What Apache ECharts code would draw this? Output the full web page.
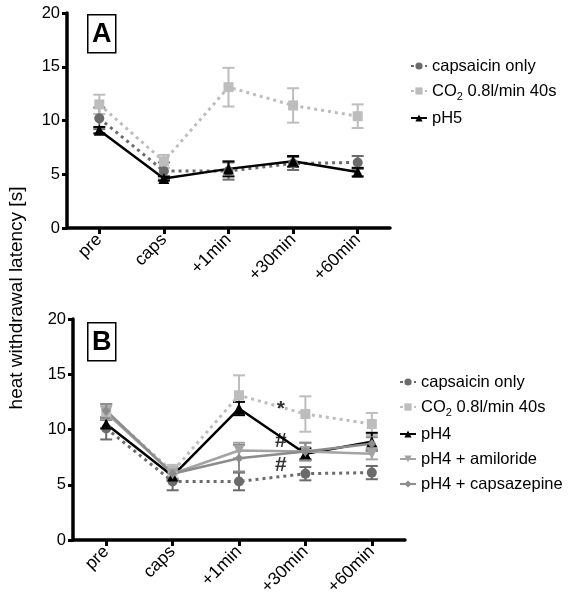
<!DOCTYPE html>
<html>
<head>
<meta charset="utf-8">
<script src="https://cdn.jsdelivr.net/npm/echarts@6/dist/echarts.min.js"></script>
<style>html,body{margin:0;padding:0;background:#fff}#c{width:570px;height:601px}</style>
</head>
<body>
<div id="c"></div>
<script>
// ---- data ----
const categories = ['pre', 'caps', '+1min', '+30min', '+60min'];
const yTicks = [0, 5, 10, 15, 20];

// Panel A
const aCapsMean = [10.2, 5.3, 5.3, 6.0, 6.1];
const aCapsErr  = [1.0, 0.8, 0.8, 0.6, 0.6];
const aCO2Mean  = [11.5, 6.2, 13.1, 11.4, 10.4];
const aCO2Err   = [0.9, 0.6, 1.8, 1.6, 1.1];
const aPH5Mean  = [9.1, 4.6, 5.5, 6.2, 5.2];
const aPH5Err   = [0.3, 0.2, 0.7, 0.5, 0.4];

// Panel B
const bCapsMean = [10.1, 5.3, 5.3, 6.0, 6.1];
const bCapsErr  = [1.0, 0.8, 0.8, 0.6, 0.6];
const bCO2Mean  = [11.6, 6.2, 13.1, 11.4, 10.5];
const bCO2Err   = [0.7, 0.6, 1.8, 1.6, 1.0];
const bPH4Mean  = [10.5, 5.8, 11.9, 7.8, 8.9];
const bPH4Err   = [0.4, 0.4, 0.6, 0.5, 0.8];
const bAmiMean  = [11.5, 6.0, 8.1, 8.0, 7.8];
const bAmiErr   = [0.6, 0.6, 0.7, 0.8, 0.5];
const bCpzMean  = [11.7, 6.0, 7.4, 8.0, 8.7];
const bCpzErr   = [0.6, 0.5, 1.2, 0.8, 0.6];

// significance marks in panel B: [x position (category units), y value, text]
const bMarks = [[2.63, 11.8, '*'], [2.63, 8.9, '#'], [2.63, 6.8, '#']];

const legendA = ['capsaicin only', 'CO2 0.8l/min 40s', 'pH5'];
const legendB = ['capsaicin only', 'CO2 0.8l/min 40s', 'pH4', 'pH4 + amiloride', 'pH4 + capsazepine'];

// ---- styles ----
const FONT = 'Liberation Sans, Arial, Helvetica, sans-serif';
const C_CAPS = '#6b6b6b', C_CO2 = '#bdbdbd', C_PH = '#000000', C_AMI = '#a3a3a3', C_CPZ = '#8c8c8c';
const DOT = [3, 4];

function errData(mean, err) {
  return mean.map((m, i) => [i, m - err[i], m + err[i]]);
}
function errRender(params, api) {
  const x = api.value(0);
  const lo = api.coord([x, api.value(1)]);
  const hi = api.coord([x, api.value(2)]);
  const w = 6;
  const style = { stroke: api.visual('color'), lineWidth: 2 };
  return {
    type: 'group',
    children: [
      { type: 'line', shape: { x1: lo[0], y1: lo[1], x2: hi[0], y2: hi[1] }, style },
      { type: 'line', shape: { x1: lo[0] - w, y1: lo[1], x2: lo[0] + w, y2: lo[1] }, style },
      { type: 'line', shape: { x1: hi[0] - w, y1: hi[1], x2: hi[0] + w, y2: hi[1] }, style }
    ]
  };
}
function errSeries(idx, mean, err, color) {
  return {
    type: 'custom', name: 'err' + idx + color + mean[0],
    xAxisIndex: idx, yAxisIndex: idx,
    renderItem: errRender, itemStyle: { color },
    data: errData(mean, err), encode: { x: 0, y: [1, 2] }, z: 2, silent: true
  };
}
function lineSeries(idx, name, mean, color, symbol, dotted, size, rot) {
  return {
    type: 'line', name, xAxisIndex: idx, yAxisIndex: idx, data: mean,
    symbol, symbolSize: size, symbolRotate: rot || 0,
    itemStyle: { color, opacity: 1 },
    lineStyle: { color, width: dotted ? 3 : 2.5, type: dotted ? DOT : 'solid' },
    z: 3, animation: false
  };
}
function yAxis(grid) {
  return {
    type: 'value', gridIndex: grid, min: 0, max: 20, interval: 5,
    axisLine: { show: true, onZero: false, lineStyle: { color: '#000', width: 3.5 } },
    axisTick: { show: true, length: 5, lineStyle: { color: '#000', width: 3 } },
    axisLabel: { color: '#000', fontSize: 16.5, fontFamily: FONT, margin: 7,
      customValues: yTicks },
    splitLine: { show: false }
  };
}
function xAxis(grid) {
  return {
    type: 'category', gridIndex: grid, data: categories, boundaryGap: true,
    axisLine: { show: true, onZero: false, lineStyle: { color: '#000', width: 3.5 } },
    axisTick: { show: true, alignWithLabel: true, length: 6, lineStyle: { color: '#000', width: 3 } },
    axisLabel: { color: '#000', fontSize: 17.5, fontFamily: FONT, rotate: 45, margin: 9, interval: 0 },
    splitLine: { show: false }
  };
}
function legend(data, left, top) {
  return {
    data, orient: 'vertical', left, top, itemWidth: 16, itemHeight: 9, itemGap: 7,
    textStyle: { color: '#000', fontSize: 16.5, fontFamily: FONT, lineHeight: 18,
      rich: { a: { fontSize: 16.5, fontFamily: FONT, color: '#000' },
              s: { fontSize: 11, fontFamily: FONT, color: '#000', padding: [11, 0, 0, 0] } } },
    formatter: n => n.indexOf('CO2') === 0 ? '{a|CO}{s|2}{a|' + n.slice(3) + '}' : n,
    selectedMode: false
  };
}
function box(letter, x, y) {
  return {
    type: 'group', left: x, top: y,
    children: [
      { type: 'rect', shape: { x: 0, y: 0, width: 28, height: 38 }, style: { fill: '#fff', stroke: '#000', lineWidth: 1.5 } },
      { type: 'text', x: 14, y: 20, style: { text: letter, font: 'bold 27px ' + FONT, fill: '#000', align: 'center', verticalAlign: 'middle' } }
    ]
  };
}

const option = {
  backgroundColor: '#fff',
  animation: false,
  grid: [
    { left: 67, top: 13, width: 323, height: 215 },
    { left: 73, top: 319, width: 332, height: 221 }
  ],
  xAxis: [xAxis(0), xAxis(1),
    { type: 'value', gridIndex: 1, min: -0.5, max: 4.5, show: false }],
  yAxis: [yAxis(0), yAxis(1)],
  legend: [legend(legendA, 405, 52), legend(legendB, 394, 368)],
  graphic: [
    box('A', 87, 14), box('B', 87, 322),
    { type: 'text', x: 17, y: 298, rotation: Math.PI / 2,
      style: { text: 'heat withdrawal latency [s]', font: '19px ' + FONT, fill: '#000', align: 'center', verticalAlign: 'middle' } }
  ],
  series: [
    // Panel A
    errSeries(0, aCapsMean, aCapsErr, C_CAPS),
    errSeries(0, aCO2Mean, aCO2Err, C_CO2),
    errSeries(0, aPH5Mean, aPH5Err, C_PH),
    lineSeries(0, 'capsaicin only', aCapsMean, C_CAPS, 'circle', true, 10),
    lineSeries(0, 'CO2 0.8l/min 40s', aCO2Mean, C_CO2, 'rect', true, 10),
    lineSeries(0, 'pH5', aPH5Mean, C_PH, 'triangle', false, 11),
    // Panel B
    errSeries(1, bCapsMean, bCapsErr, C_CAPS),
    errSeries(1, bCO2Mean, bCO2Err, C_CO2),
    errSeries(1, bPH4Mean, bPH4Err, C_PH),
    errSeries(1, bAmiMean, bAmiErr, C_AMI),
    errSeries(1, bCpzMean, bCpzErr, C_CPZ),
    lineSeries(1, 'capsaicin only', bCapsMean, C_CAPS, 'circle', true, 10),
    lineSeries(1, 'CO2 0.8l/min 40s', bCO2Mean, C_CO2, 'rect', true, 10),
    lineSeries(1, 'pH4', bPH4Mean, C_PH, 'triangle', false, 11),
    lineSeries(1, 'pH4 + amiloride', bAmiMean, C_AMI, 'triangle', false, 11, 180),
    lineSeries(1, 'pH4 + capsazepine', bCpzMean, C_CPZ, 'diamond', false, 9),
    {
      type: 'scatter', name: 'marks', xAxisIndex: 2, yAxisIndex: 1,
      data: bMarks, symbolSize: 1, itemStyle: { color: 'transparent' },
      label: { show: true, position: 'inside', formatter: p => p.value[2],
        color: '#000', fontSize: 21, fontWeight: 'bold', fontFamily: FONT },
      z: 5, silent: true
    }
  ]
};
const chart = echarts.init(document.getElementById('c'), null, { renderer: 'canvas' });
chart.setOption(option);
</script>
</body>
</html>
